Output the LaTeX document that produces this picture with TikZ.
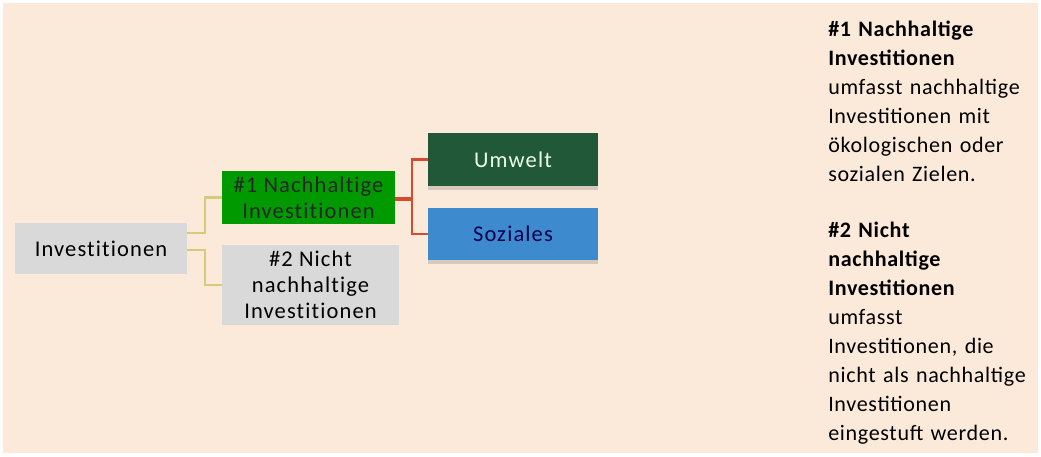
\documentclass[tikz,border=0pt]{standalone}
\usepackage{fontspec}
\setmainfont{Carlito}
\newfontfamily\boxfont[LetterSpace=5,Ligatures=NoCommon]{Carlito}
\newfontfamily\sidefont[LetterSpace=3]{Carlito}
\usetikzlibrary{shadows}
\definecolor{bgbeige}{HTML}{FBEADA}
\definecolor{boxgray}{HTML}{D9D9D9}
\definecolor{boxgreen}{HTML}{009A00}
\definecolor{darkgreen}{HTML}{215938}
\definecolor{boxblue}{HTML}{3E8ACF}
\definecolor{linered}{HTML}{D64B2E}
\definecolor{linekhaki}{HTML}{D6CB78}
\begin{document}
\begin{tikzpicture}[x=0.025cm, y=-0.025cm,
    box/.style = {inner sep=0pt, align=center, font=\boxfont\fontsize{16}{18.5}\selectfont},
    topic/.style = {box, drop shadow={shadow xshift=0pt, shadow yshift=-2.5pt, opacity=0.3}},
    linkY/.style = {draw=linekhaki, line width=1.6pt},
    linkR/.style = {draw=linered, line width=1.6pt},
    side/.style = {anchor=north west, inner sep=0pt, align=left, text width=5.3cm,
                   font=\sidefont\fontsize{15.7}{20.6}\selectfont}]
    % background
    \fill[white] (0,0) rectangle (1041,457);
    \useasboundingbox (0,0) rectangle (1041,457);
    \fill[bgbeige] (3,3) rectangle (1038,453);

    % tree
    \node[box, fill=boxgray, minimum width=4.3cm, minimum height=1.275cm]
      (inv) at (101,248.5) {Investitionen};
    \node[box, fill=boxgreen, text=black!85, minimum width=4.325cm, minimum height=1.325cm]
      (sust) at (308.5,197.5) {\#1 Nachhaltige\\Investitionen};
    \node[box, fill=boxgray, minimum width=4.425cm, minimum height=2cm]
      (nonsust) at (310.5,285) {\#2 Nicht\\nachhaltige\\Investitionen};
    \node[topic, fill=darkgreen, text=white!92!green, minimum width=4.25cm, minimum height=1.325cm]
      (env) at (513,159.5) {Umwelt};
    \node[topic, fill=boxblue, text=blue!30!black, minimum width=4.25cm, minimum height=1.3cm]
      (soc) at (513,234) {Soziales};

    \draw[linkY] ([yshift=0.39cm]inv.east) -- ++(18,0) |- (sust.west);
    \draw[linkY] ([yshift=-0.04cm]inv.east) -- ++(18,0) |- (nonsust.west);
    \draw[linkR, line width=2.8pt] ([yshift=-0.03cm]sust.east) -- ++(17,0) coordinate (fork);
    \draw[linkR] (env.west) -| (fork) |- (soc.west);

    % explanations
    \node[side] (note1) at (828,21)
      {\textbf{\#1 Nachhaltige\\Investitionen}\\umfasst nachhaltige\\Investitionen mit\\ökologischen oder\\sozialen Zielen.};
    \node[side] (note2) at (828,222)
      {\textbf{\#2 Nicht\\nachhaltige\\Investitionen}\\umfasst\\Investitionen, die\\nicht als nachhaltige\\Investitionen\\eingestuft werden.};
\end{tikzpicture}
\end{document}
